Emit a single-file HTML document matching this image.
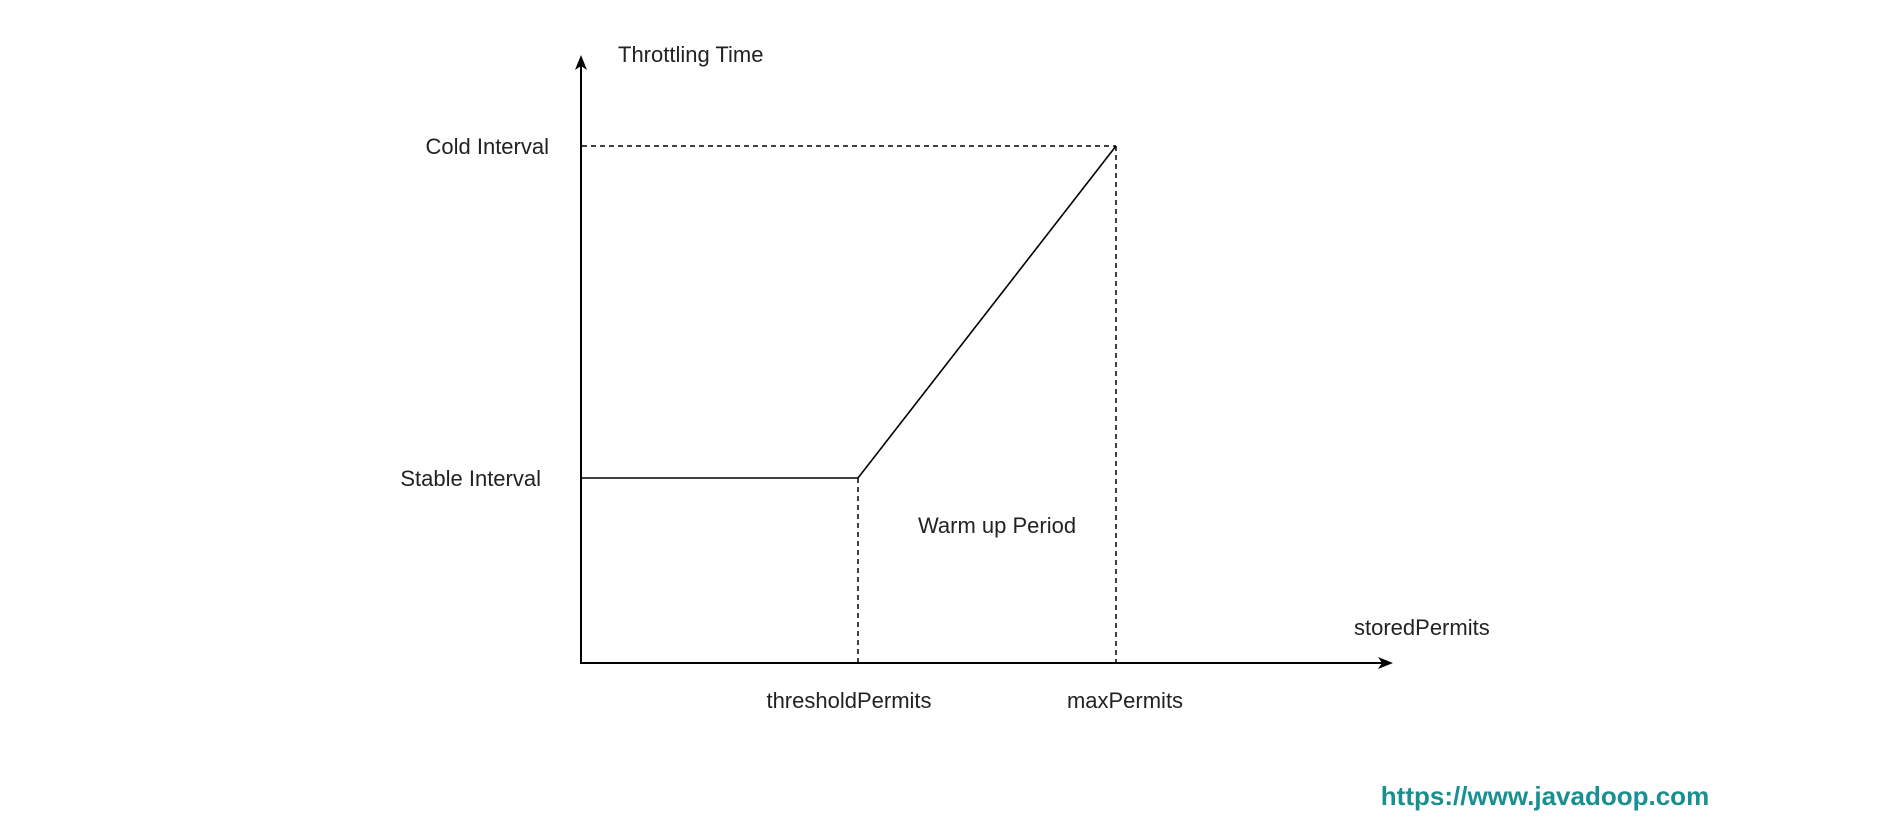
<!DOCTYPE html>
<html><head><meta charset="utf-8"><style>
html,body{margin:0;padding:0;background:#fff;}
svg{display:block;}
text{font-family:"Liberation Sans",Arial,sans-serif;fill:#222;font-size:22px;}
</style></head><body>
<svg width="1880" height="828" viewBox="0 0 1880 828" xmlns="http://www.w3.org/2000/svg">
<rect width="1880" height="828" fill="#fff"/>
<!-- axes -->
<line x1="581" y1="663" x2="581" y2="66" stroke="#000" stroke-width="2"/>
<polygon points="581,55 575,70 581,66 587,70" fill="#000"/>
<line x1="580" y1="663" x2="1382" y2="663" stroke="#000" stroke-width="2"/>
<polygon points="1393,663 1378,657 1382,663 1378,669" fill="#000"/>
<!-- dashed -->
<g stroke="#000" stroke-width="1.5" stroke-dasharray="5,4" fill="none">
<line x1="582" y1="146" x2="1116" y2="146"/>
<line x1="1116" y1="146" x2="1116" y2="663"/>
<line x1="858" y1="478" x2="858" y2="663"/>
</g>
<!-- curve -->
<polyline points="581,478 858,478 1116,146" fill="none" stroke="#000" stroke-width="1.6"/>
<!-- labels -->
<text x="618" y="62">Throttling Time</text>
<text x="549" y="154" text-anchor="end">Cold Interval</text>
<text x="541" y="486" text-anchor="end">Stable Interval</text>
<text x="997" y="533" text-anchor="middle">Warm up Period</text>
<text x="1354" y="635">storedPermits</text>
<text x="849" y="708" text-anchor="middle">thresholdPermits</text>
<text x="1125" y="708" text-anchor="middle">maxPermits</text>
<text x="1545" y="805" text-anchor="middle" style="font-weight:bold;font-size:26px;fill:#17908f">https://www.javadoop.com</text>
</svg>
</body></html>
